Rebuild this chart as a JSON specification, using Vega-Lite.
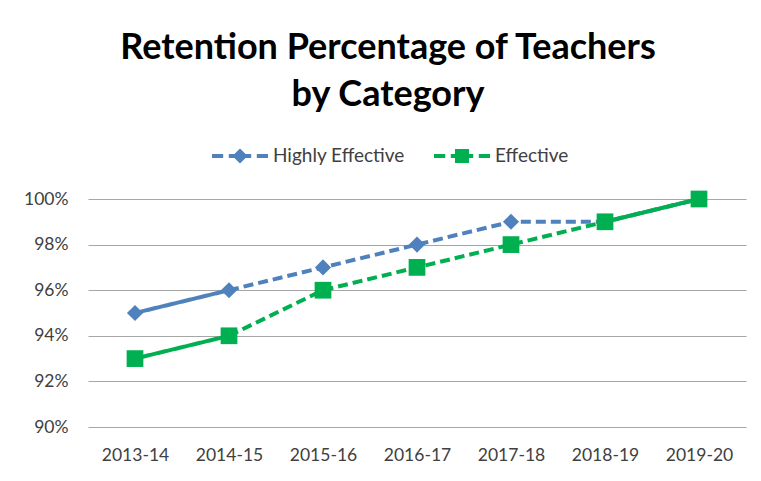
{
  "$schema": "https://vega.github.io/schema/vega-lite/v6.json",
  "autosize": "none",
  "width": 658,
  "height": 228,
  "padding": {"left": 88, "top": 199, "right": 15, "bottom": 54},
  "background": "white",
  "config": {
    "view": {"stroke": null},
    "font": "Lato",
    "axis": {"labelFont": "Lato", "labelFontSize": 17.5, "labelColor": "#404040", "ticks": false, "domain": false, "title": null},
    "legend": {"labelFont": "Lato", "labelFontSize": 19, "labelColor": "#404040", "padding": 0}
  },
  "title": {
    "text": ["Retention Percentage of Teachers", "by Category"],
    "font": "Lato",
    "fontSize": 36,
    "fontWeight": "bold",
    "color": "#000000",
    "lineHeight": 47,
    "anchor": "middle",
    "frame": "group",
    "baseline": "bottom",
    "offset": -22,
    "dx": -29
  },
  "datasets": {
    "points": [
      {"year": "2013-14", "series": "Highly Effective", "value": 0.95},
      {"year": "2014-15", "series": "Highly Effective", "value": 0.96},
      {"year": "2015-16", "series": "Highly Effective", "value": 0.97},
      {"year": "2016-17", "series": "Highly Effective", "value": 0.98},
      {"year": "2017-18", "series": "Highly Effective", "value": 0.99},
      {"year": "2018-19", "series": "Highly Effective", "value": 0.99},
      {"year": "2019-20", "series": "Highly Effective", "value": 1.0},
      {"year": "2013-14", "series": "Effective", "value": 0.93},
      {"year": "2014-15", "series": "Effective", "value": 0.94},
      {"year": "2015-16", "series": "Effective", "value": 0.96},
      {"year": "2016-17", "series": "Effective", "value": 0.97},
      {"year": "2017-18", "series": "Effective", "value": 0.98},
      {"year": "2018-19", "series": "Effective", "value": 0.99},
      {"year": "2019-20", "series": "Effective", "value": 1.0}
    ],
    "segments": [
      {"seg": "HE1", "style": "solid", "year": "2013-14", "series": "Highly Effective", "value": 0.95},
      {"seg": "HE1", "style": "solid", "year": "2014-15", "series": "Highly Effective", "value": 0.96},
      {"seg": "HE2", "style": "dashed", "year": "2014-15", "series": "Highly Effective", "value": 0.96},
      {"seg": "HE2", "style": "dashed", "year": "2015-16", "series": "Highly Effective", "value": 0.97},
      {"seg": "HE2", "style": "dashed", "year": "2016-17", "series": "Highly Effective", "value": 0.98},
      {"seg": "HE2", "style": "dashed", "year": "2017-18", "series": "Highly Effective", "value": 0.99},
      {"seg": "HE2", "style": "dashed", "year": "2018-19", "series": "Highly Effective", "value": 0.99},
      {"seg": "HE3", "style": "solid", "year": "2018-19", "series": "Highly Effective", "value": 0.99},
      {"seg": "HE3", "style": "solid", "year": "2019-20", "series": "Highly Effective", "value": 1.0},
      {"seg": "E1", "style": "solid", "year": "2013-14", "series": "Effective", "value": 0.93},
      {"seg": "E1", "style": "solid", "year": "2014-15", "series": "Effective", "value": 0.94},
      {"seg": "E2", "style": "dashed", "year": "2014-15", "series": "Effective", "value": 0.94},
      {"seg": "E2", "style": "dashed", "year": "2015-16", "series": "Effective", "value": 0.96},
      {"seg": "E2", "style": "dashed", "year": "2016-17", "series": "Effective", "value": 0.97},
      {"seg": "E2", "style": "dashed", "year": "2017-18", "series": "Effective", "value": 0.98},
      {"seg": "E2", "style": "dashed", "year": "2018-19", "series": "Effective", "value": 0.99},
      {"seg": "E3", "style": "solid", "year": "2018-19", "series": "Effective", "value": 0.99},
      {"seg": "E3", "style": "solid", "year": "2019-20", "series": "Effective", "value": 1.0}
    ]
  },
  "encoding": {
    "x": {
      "field": "year", "type": "ordinal",
      "scale": {"type": "point", "padding": 0.5},
      "axis": {"labelAngle": 0, "labelPadding": 19, "grid": false}
    },
    "y": {
      "field": "value", "type": "quantitative",
      "scale": {"domain": [0.9, 1.0], "nice": false, "zero": false},
      "axis": {"values": [0.9, 0.92, 0.94, 0.96, 0.98, 1.0], "format": ".0%", "labelPadding": 20, "grid": true, "gridColor": "#a6a6a6", "gridWidth": 1}
    },
    "color": {
      "field": "series", "type": "nominal",
      "scale": {"domain": ["Highly Effective", "Effective"], "range": ["#4F81BD", "#00B050"]},
      "legend": {
        "orient": "none",
        "direction": "horizontal",
        "legendX": 124,
        "legendY": -71,
        "title": null,
        "symbolSize": 3136,
        "symbolStrokeWidth": 0,
        "labelOffset": 5,
        "columnPadding": 29,
        "encode": {
          "symbols": {
            "update": {
              "shape": {"signal": "datum.value === 'Effective' ? 'M-1,-0.07H-0.6V0.07H-1Z M-0.4,-0.07H0.4V0.07H-0.4Z M0.6,-0.07H1V0.07H0.6Z M-0.25,-0.25H0.25V0.25H-0.25Z' : 'M-1,-0.07H-0.6V0.07H-1Z M-0.4,-0.07H0.4V0.07H-0.4Z M0.6,-0.07H1V0.07H0.6Z M0,-0.27L0.27,0L0,0.27L-0.27,0Z'"},
              "fill": {"signal": "datum.value === 'Effective' ? '#00B050' : '#4F81BD'"},
              "stroke": {"value": "transparent"},
              "strokeWidth": {"value": 0},
              "size": {"value": 3136},
              "opacity": {"value": 1}
            }
          }
        }
      }
    }
  },
  "layer": [
    {
      "data": {"name": "segments"},
      "mark": {"type": "line", "strokeWidth": 4},
      "encoding": {
        "detail": {"field": "seg"},
        "strokeDash": {
          "field": "style", "type": "nominal",
          "scale": {"domain": ["solid", "dashed"], "range": [[1, 0], [10, 5]]},
          "legend": null
        }
      }
    },
    {
      "data": {"name": "points"},
      "transform": [{"filter": "datum.series === 'Highly Effective'"}],
      "mark": {"type": "point", "filled": true, "opacity": 1, "shape": "diamond", "size": 260}
    },
    {
      "data": {"name": "points"},
      "transform": [{"filter": "datum.series === 'Effective'"}],
      "mark": {"type": "point", "filled": true, "opacity": 1, "shape": "square", "size": 280}
    }
  ]
}
